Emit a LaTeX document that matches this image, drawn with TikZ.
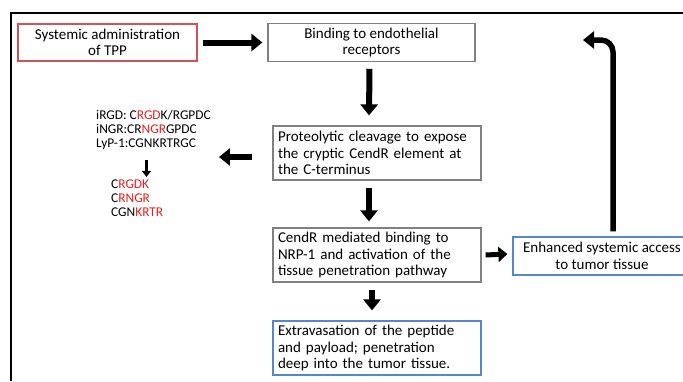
\documentclass[tikz,border=0pt]{standalone}
\usepackage{fontspec}
\setmainfont{Carlito}
\definecolor{boxred}{RGB}{205,85,85}
\definecolor{boxgray}{RGB}{128,128,128}
\definecolor{boxblue}{RGB}{85,135,205}
\definecolor{aared}{RGB}{235,30,30}
\usetikzlibrary{arrows.meta, positioning, calc}

\tikzset{
  stage/.style={draw=boxgray, line width=1.2pt, font=\fontsize{15}{16.5}\selectfont, inner sep=4pt},
  blockarrow/.style={line width=6pt, -{Triangle[length=11pt, width=17pt]}},
  seq/.style={font=\fontsize{13.4}{14}\selectfont, align=left, inner sep=0pt}
}

\begin{document}
\begin{tikzpicture}[x=1pt, y=-1pt]
  \useasboundingbox (0,0) rectangle (683,381);
  % outer frame, cut at right and bottom
  \draw[line width=2.5pt] (11,381) -- (11,13) -- (683,13);

  % stages
  \node[stage, draw=boxred, minimum width=179pt, minimum height=37pt, align=center] (admin) at (107.5,42.5)
    {Systemic administration\\of TPP};
  \node[stage, minimum width=207pt, minimum height=37pt, align=center] (bind) at (371.5,42.5)
    {Binding to endothelial\\receptors};
  \node[stage, minimum width=208pt, minimum height=54pt, text width=198pt, align=left] (cleave) at (377,153)
    {Proteolytic cleavage to expose\\the cryptic CendR element at\\the C-terminus};
  \node[stage, minimum width=208pt, minimum height=54pt, text width=198pt, align=left] (cendr) at (377,255)
    {CendR mediated binding to\\NRP-1 and activation of the\\tissue penetration pathway};
  \node[stage, draw=boxblue, minimum width=208pt, minimum height=54pt, text width=198pt, align=left] (extra) at (377,348)
    {Extravasation of the peptide\\and payload; penetration\\deep into the tumor tissue.};
  \node[stage, draw=boxblue, minimum width=178pt, minimum height=38pt, align=center] (access) at (602,256)
    {Enhanced systemic access\\to tumor tissue};

  % peptide sequences
  \node[seq, anchor=north west] (pep) at (96,110)
    {iRGD: C\textcolor{aared}{RGD}K/RGPDC\\
     iNGR:CR\textcolor{aared}{NGR}GPDC\\
     LyP-1:CGNKRTRGC};
  \node[seq, anchor=north west] (cut) at (111,180)
    {C\textcolor{aared}{RGDK}\\
     C\textcolor{aared}{RNGR}\\
     CGN\textcolor{aared}{KRTR}};

  % arrows
  \draw[blockarrow] ($(admin.east)+(5,0)$) -- ($(bind.west)+(-5,0)$);
  \draw[blockarrow] ($(bind.south)+(-2,7)$) -- ($(cleave.north)+(-8,-10)$);
  \draw[blockarrow] ($(cleave.south)+(-8,7)$) -- ($(cendr.north)+(-8,-6)$);
  \draw[blockarrow] ($(cendr.south)+(-5,7)$) -- ($(extra.north)+(-5,-10)$);
  \draw[blockarrow, -{Triangle[length=9pt, width=15pt]}, line width=5pt] ($(cendr.east)+(4,0)$) -- ($(access.west)+(-5,-2)$);
  \draw[blockarrow] ($(cleave.west)+(-20,4)$) coordinate (c1) -- ($(pep.east |- c1)+(8,0)$);
  \draw[line width=2.5pt, -{Triangle[length=6pt, width=9pt]}] ($(pep.south)+(-7,10)$) -- ++(0,17);
  \draw[blockarrow, line width=5.5pt, rounded corners=12pt] ($(access.north)+(11,-5)$) |- (583,40);
\end{tikzpicture}
\end{document}
